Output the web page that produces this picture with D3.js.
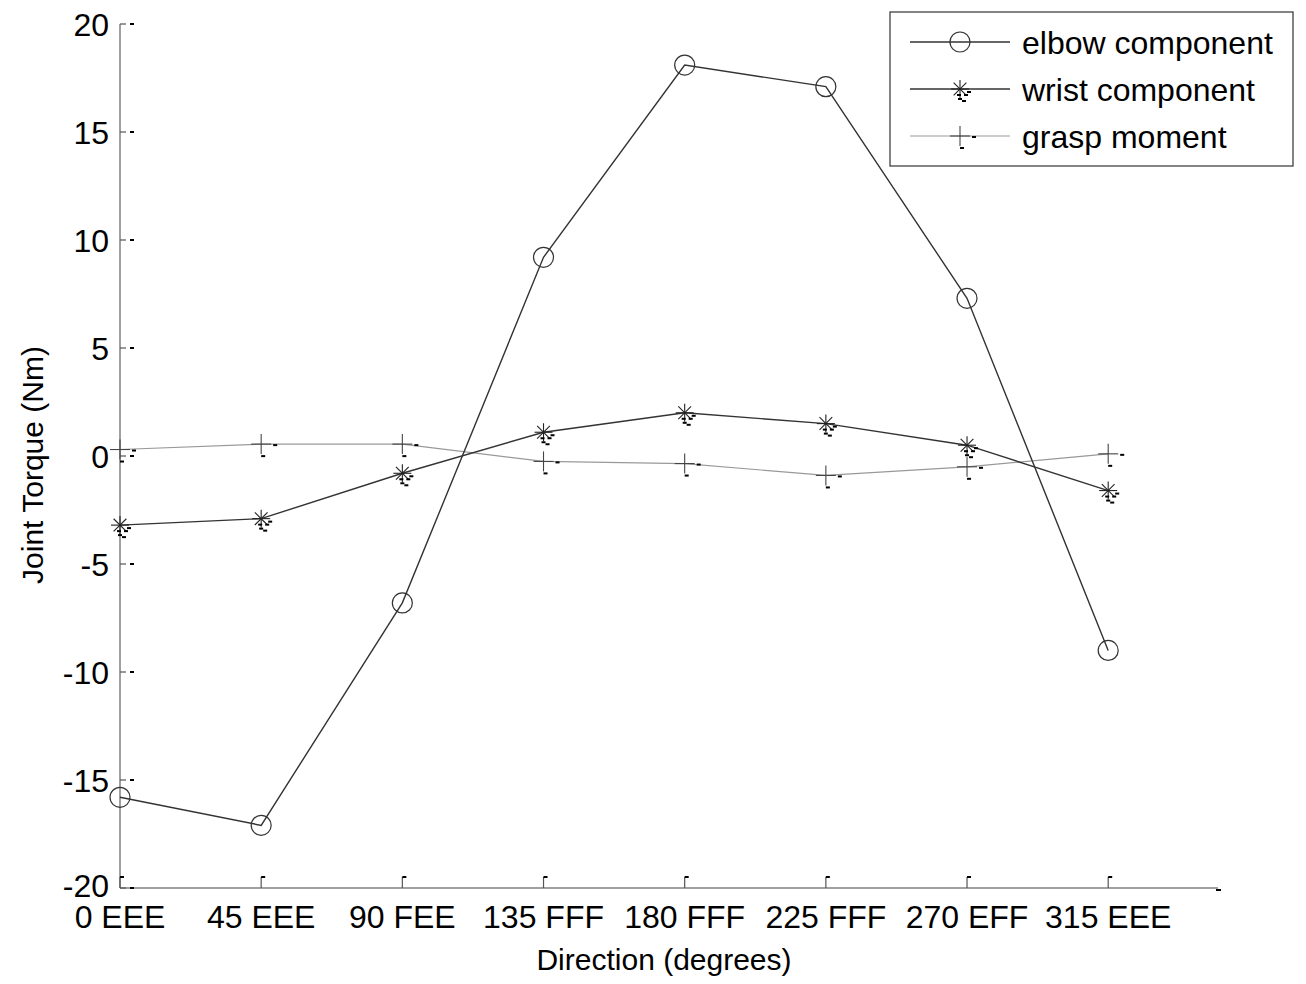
<!DOCTYPE html>
<html>
<head>
<meta charset="utf-8">
<script src="https://cdn.jsdelivr.net/npm/d3@7"></script>
<style>
  body { margin: 0; background: #fff; }
  text { font-family: Arial, "Liberation Sans", sans-serif; fill: #000; }
</style>
</head>
<body>
<svg id="chart" width="1306" height="984"></svg>
<script>
// directions (degrees) and their labels
const directions = [0, 45, 90, 135, 180, 225, 270, 315];
const dirLabels = ["0 EEE", "45 EEE", "90 FEE", "135 FFF", "180 FFF", "225 FFF", "270 EFF", "315 EEE"];

// joint torque values (Nm)
const elbow = [-15.8, -17.1, -6.8, 9.2, 18.1, 17.1, 7.3, -9.0];
const wrist = [-3.2, -2.9, -0.8, 1.1, 2.0, 1.5, 0.5, -1.6];
const grasp = [0.3, 0.55, 0.55, -0.25, -0.35, -0.9, -0.5, 0.1];

const yTicks = [-20, -15, -10, -5, 0, 5, 10, 15, 20];

const svg = d3.select("#chart");

// scales: axes run from (120,888) to (1218,24)
let x = d3.scaleLinear().domain([0, 350]).range([120, 1218]);
let y = d3.scaleLinear().domain([-20, 20]).range([888, 24]);

// axis lines
svg.append("line").attr("x1", 120).attr("x2", 120).attr("y1", y(20)).attr("y2", y(-20))
    .attr("stroke", "#808080").attr("stroke-width", 1.5);
svg.append("line").attr("x1", 120).attr("x2", x(350)).attr("y1", y(-20)).attr("y2", y(-20))
    .attr("stroke", "#808080").attr("stroke-width", 1.5);

// y ticks (pointing inward) + labels
let yt = svg.append("g");
yTicks.forEach(v => {
    yt.append("line").attr("x1", 120).attr("x2", 126).attr("y1", y(v)).attr("y2", y(v))
        .attr("stroke", "#555").attr("stroke-width", 1.2);
    yt.append("rect").attr("x", 130).attr("y", y(v) - 1).attr("width", 4).attr("height", 2).attr("fill", "#000");
    yt.append("text").attr("x", 109).attr("y", v === -20 ? y(v) - 3 : y(v)).attr("dy", "0.36em")
        .attr("text-anchor", "end").attr("font-size", 32).text(v);
});

// x ticks + labels
let xt = svg.append("g");
directions.forEach((d, i) => {
    xt.append("line").attr("x1", x(d)).attr("x2", x(d)).attr("y1", y(-20)).attr("y2", y(-20) - 11)
        .attr("stroke", "#555").attr("stroke-width", 1.2);
    xt.append("rect").attr("x", x(d)).attr("y", y(-20) - 12).attr("width", 4).attr("height", 2).attr("fill", "#000");
    xt.append("text").attr("x", x(d)).attr("y", 928)
        .attr("text-anchor", "middle").attr("font-size", 32).text(dirLabels[i]);
});
svg.append("rect").attr("x", x(350) - 2).attr("y", y(-20) + 1).attr("width", 5).attr("height", 2).attr("fill", "#000");

// axis titles
svg.append("text").attr("x", 664).attr("y", 970).attr("text-anchor", "middle")
    .attr("font-size", 30).text("Direction (degrees)");
svg.append("text").attr("transform", "translate(43,465) rotate(-90)").attr("text-anchor", "middle")
    .attr("font-size", 30).text("Joint Torque (Nm)");

// marker helpers
function circleMarker(g, cx, cy) {
    g.append("circle").attr("cx", cx).attr("cy", cy).attr("r", 10)
        .attr("fill", "none").attr("stroke", "#333").attr("stroke-width", 1.2);
}
function starMarker(g, cx, cy) {
    let r = 9;
    [0, 45, 90, 135].forEach(a => {
        let dx = r * Math.cos(a * Math.PI / 180), dy = r * Math.sin(a * Math.PI / 180);
        g.append("line").attr("x1", cx - dx).attr("x2", cx + dx).attr("y1", cy - dy).attr("y2", cy + dy)
            .attr("stroke", "#222").attr("stroke-width", 1.1);
    });
    [[7, 2], [4, 5], [-3, 5], [-2, 9], [2, 11]].forEach(o => {
        g.append("rect").attr("x", cx + o[0]).attr("y", cy + o[1]).attr("width", 4).attr("height", 2).attr("fill", "#000");
    });
}
function plusMarker(g, cx, cy) {
    let r = 10;
    g.append("line").attr("x1", cx - r).attr("x2", cx + r).attr("y1", cy).attr("y2", cy)
        .attr("stroke", "#444").attr("stroke-width", 1.1);
    g.append("line").attr("x1", cx).attr("x2", cx).attr("y1", cy - r).attr("y2", cy + r)
        .attr("stroke", "#444").attr("stroke-width", 1.1);
    g.append("rect").attr("x", cx + 12).attr("y", cy).attr("width", 4).attr("height", 2).attr("fill", "#000");
    g.append("rect").attr("x", cx).attr("y", cy + 11).attr("width", 4).attr("height", 2).attr("fill", "#000");
}

const series = [
    { name: "grasp moment", values: grasp, color: "#999", width: 1.2, marker: plusMarker },
    { name: "wrist component", values: wrist, color: "#333", width: 1.4, marker: starMarker },
    { name: "elbow component", values: elbow, color: "#333", width: 1.4, marker: circleMarker }
];

let line = d3.line().x((v, i) => x(directions[i])).y(v => y(v));

series.forEach(s => {
    let g = svg.append("g");
    g.append("path").attr("d", line(s.values)).attr("fill", "none")
        .attr("stroke", s.color).attr("stroke-width", s.width);
    s.values.forEach((v, i) => s.marker(g, x(directions[i]), y(v)));
});

// legend
let lg = svg.append("g");
lg.append("rect").attr("x", 890).attr("y", 12).attr("width", 403).attr("height", 154)
    .attr("fill", "#fff").attr("stroke", "#333").attr("stroke-width", 1.2);
const legendOrder = [series[2], series[1], series[0]];
legendOrder.forEach((s, i) => {
    let ly = 42 + i * 47;
    lg.append("line").attr("x1", 910).attr("x2", 1010).attr("y1", ly).attr("y2", ly)
        .attr("stroke", s.color).attr("stroke-width", s.width);
    s.marker(lg, 960, ly);
    lg.append("text").attr("x", 1022).attr("y", ly).attr("dy", "0.36em")
        .attr("font-size", 32).text(s.name);
});
</script>
</body>
</html>
